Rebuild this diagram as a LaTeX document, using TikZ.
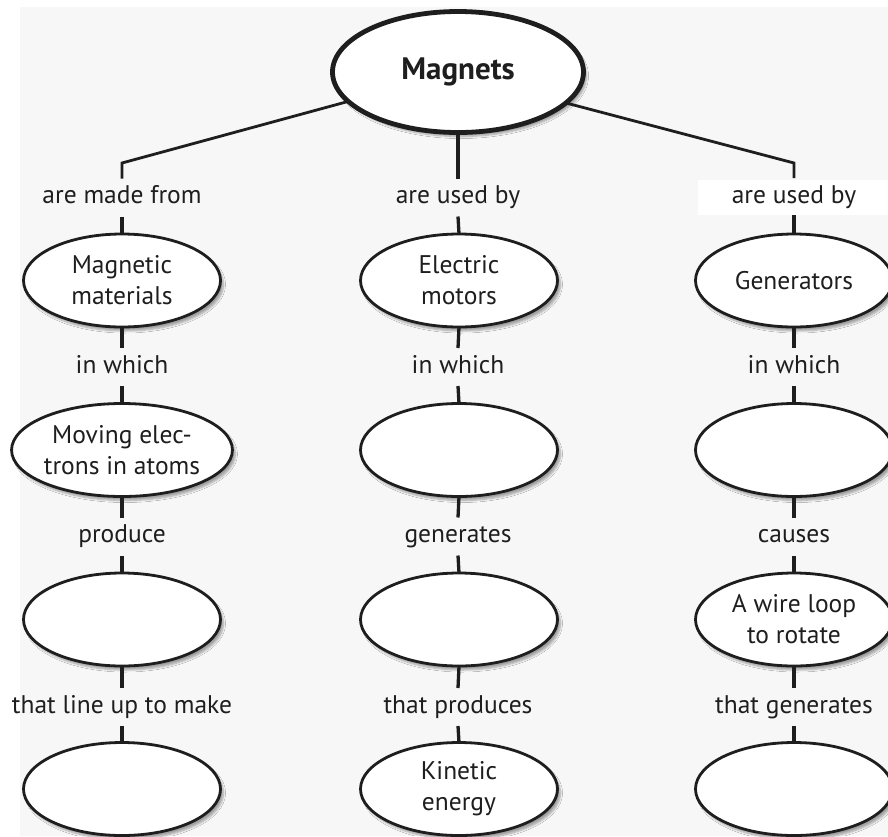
\documentclass[tikz,border=0pt]{standalone}
\usepackage{fontspec}
\setmainfont{PT Sans}
\usetikzlibrary{shapes.geometric,shadows.blur}
\definecolor{bggray}{RGB}{247,247,247}
\definecolor{ink}{RGB}{30,30,30}
\tikzset{
  concept/.style={ellipse, draw=ink, line width=2.8pt, fill=white,
    minimum width=197pt, minimum height=93pt, inner sep=0pt, outer sep=0pt,
    align=center, font=\fontsize{25.5}{31}\selectfont, text=ink,
    blur shadow={shadow xshift=3pt, shadow yshift=-4pt, shadow blur steps=6, shadow opacity=35}},
  topconcept/.style={concept, line width=4.8pt, minimum width=251pt, minimum height=121pt,
    font=\fontsize{31}{36}\selectfont\bfseries},
  linkword/.style={font=\fontsize{25.5}{30}\selectfont, text=ink, inner xsep=2pt, inner ysep=8pt,
    text height=17pt, text depth=5pt, outer sep=0pt},
  conn/.style={draw=ink, line width=3.3pt},
  diag/.style={draw=ink, line width=2.8pt, line join=miter}
}
\begin{document}
\begin{tikzpicture}[x=1pt,y=-1pt]
\useasboundingbox (0,0) rectangle (888,836);
\fill[white] (0,0) rectangle (888,836);
\fill[bggray] (20,7) rectangle (888,836);

% top concept
\node[topconcept] (M) at (458,72) {Magnets};

% left column
\node[linkword] (La) at (122,197.5) {are made from};
\node[concept] (L1) at (122,280.5) {Magnetic\\materials};
\node[linkword] (Lb) at (122,367) {in which};
\node[concept] (L2) at (122,450) {Moving elec-\\trons in atoms};
\node[linkword] (Lc) at (122,536.5) {produce};
\node[concept] (L3) at (122,619.5) {};
\node[linkword] (Ld) at (122,707) {that line up to make};
\node[concept] (L4) at (122,789) {};

% middle column
\node[linkword] (Ca) at (458,197.5) {are used by};
\node[concept] (C1) at (459,280.5) {Electric\\motors};
\node[linkword] (Cb) at (458,367) {in which};
\node[concept] (C2) at (459,450) {};
\node[linkword] (Cc) at (458,536.5) {generates};
\node[concept] (C3) at (459,619.5) {};
\node[linkword] (Cd) at (458,707) {that produces};
\node[concept] (C4) at (459,789) {Kinetic\\energy};

% right column
\node[linkword, fill=white, minimum width=192pt, minimum height=35pt, inner ysep=0pt] (Ra) at (794,197.5) {are used by};
\node[concept] (R1) at (794,280.5) {Generators};
\node[linkword] (Rb) at (794,367) {in which};
\node[concept] (R2) at (794,450) {};
\node[linkword] (Rc) at (794,536.5) {causes};
\node[concept] (R3) at (794,619.5) {A wire loop\\to rotate};
\node[linkword] (Rd) at (794,707) {that generates};
\node[concept] (R4) at (794,789) {};

% kinks
\coordinate (kL) at (122,163);
\coordinate (kR) at (794,163);

% connectors from the top
\draw[diag] (M.195) -- (kL) -- (La.north);
\draw[diag] (M.344) -- (kR) -- (794,178);
\draw[conn] (M.south) -- (Ca.north);

% vertical connectors
\foreach \col in {L,C,R}{
  \draw[conn] (\col a.south) -- (\col 1.north);
  \draw[conn] (\col 1.south) -- (\col b.north);
  \draw[conn] (\col b.south) -- (\col 2.north);
  \draw[conn] (\col 2.south) -- (\col c.north);
  \draw[conn] (\col c.south) -- (\col 3.north);
  \draw[conn] (\col 3.south) -- (\col d.north);
  \draw[conn] (\col d.south) -- (\col 4.north);
}
\draw[conn] (Ra.south) -- (R1.north);
\end{tikzpicture}
\end{document}
